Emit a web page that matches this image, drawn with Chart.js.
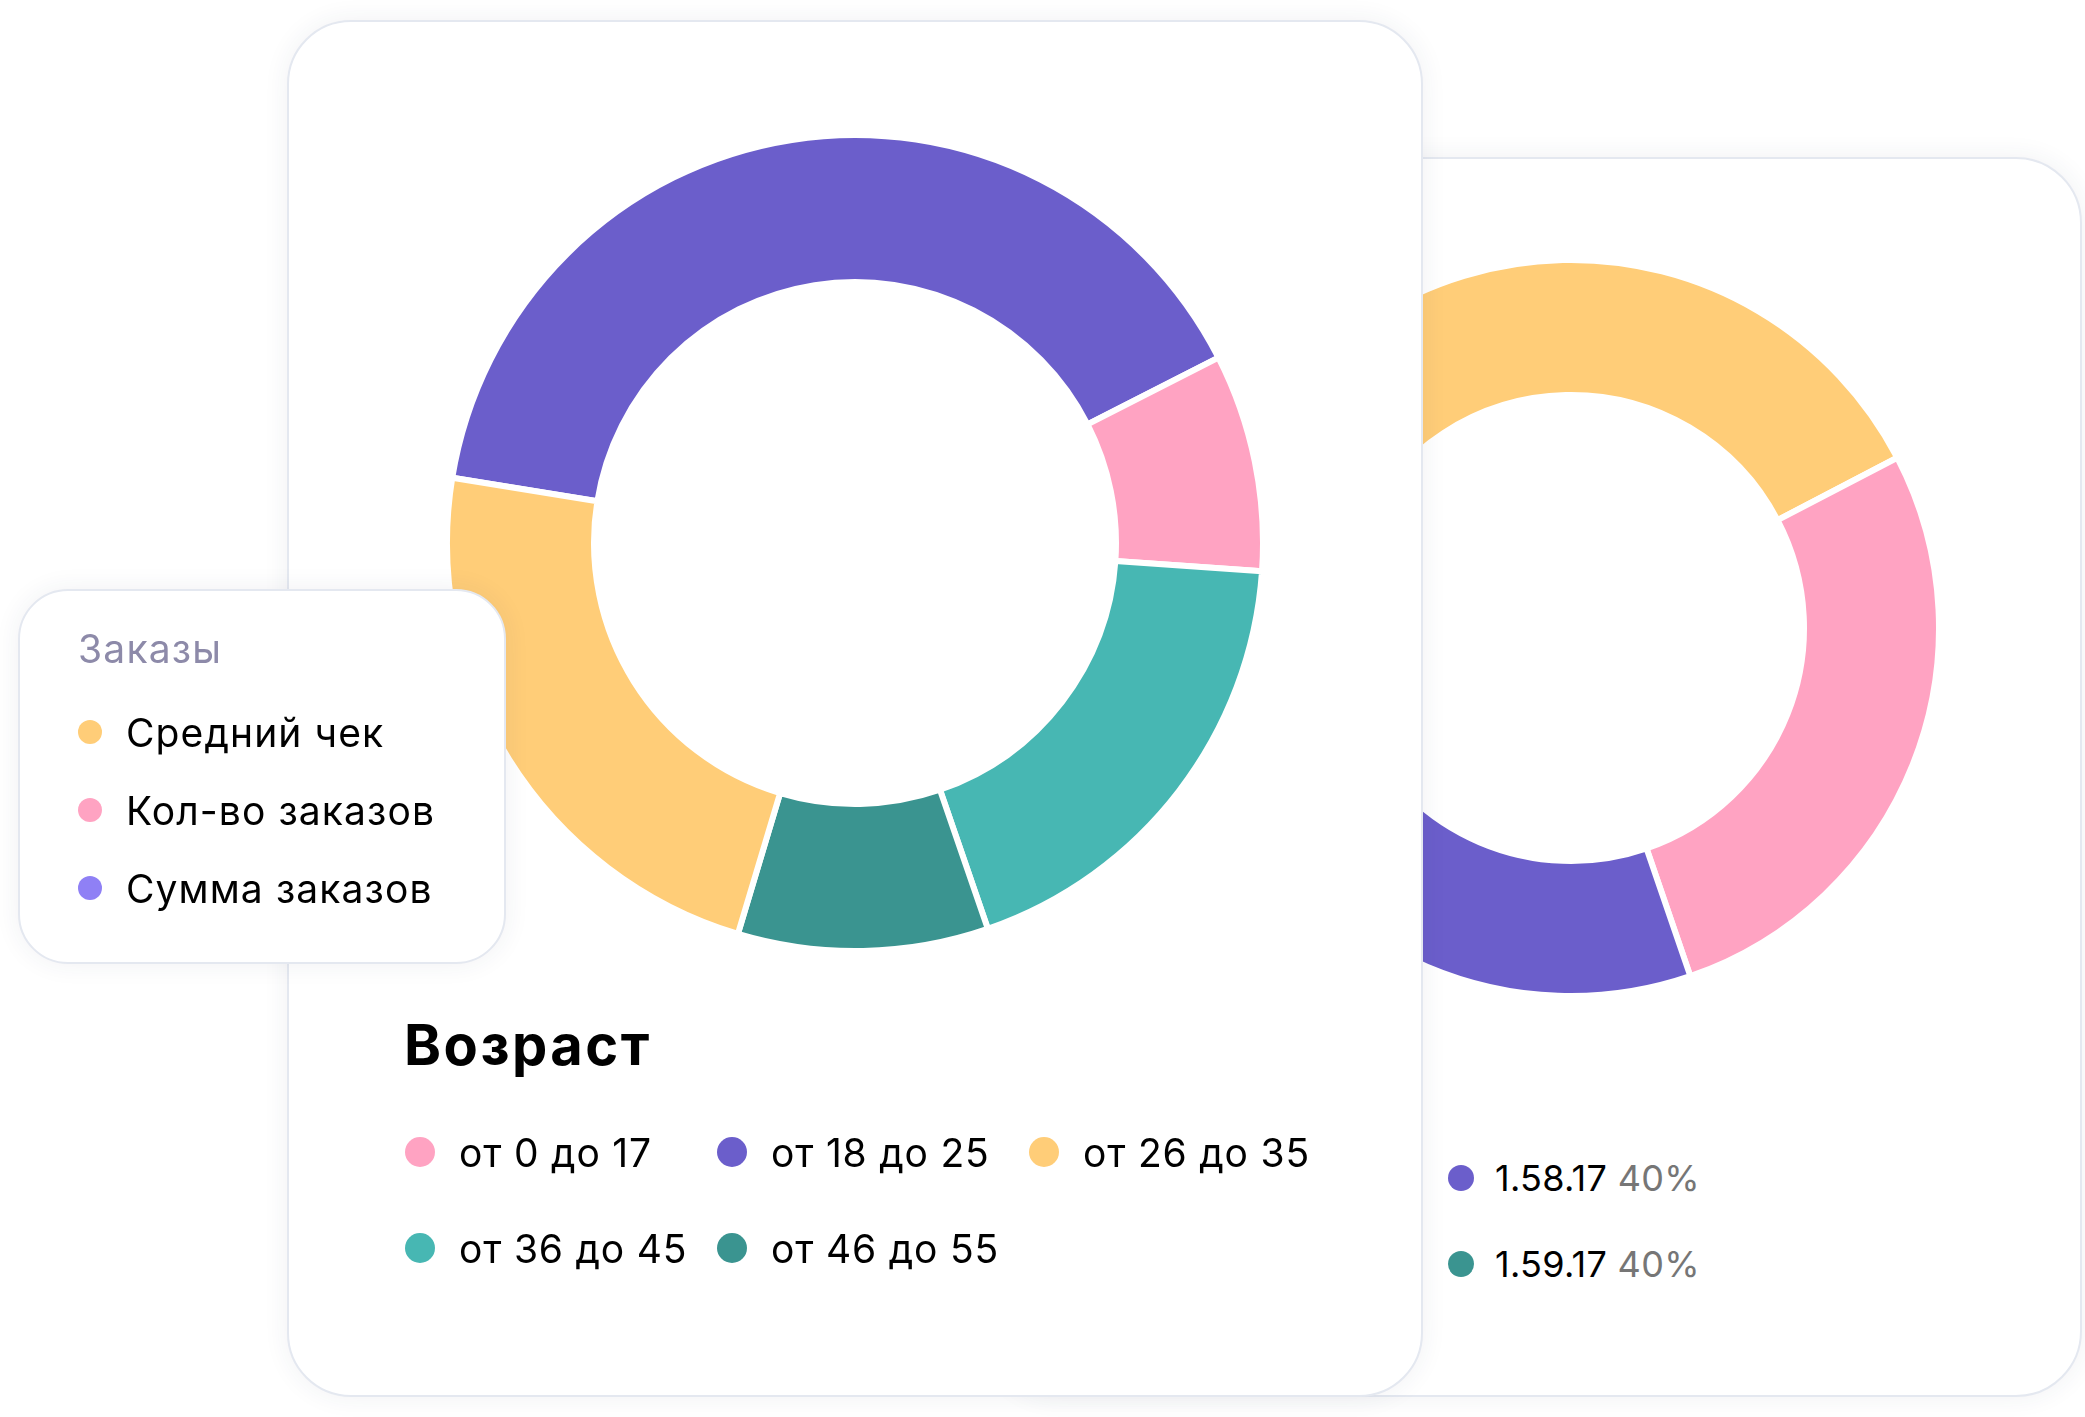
<!DOCTYPE html>
<html>
<head>
<meta charset="utf-8">
<script src="https://cdn.jsdelivr.net/npm/chart.js@4.4.1/dist/chart.umd.min.js"></script>
<style>
  html, body { margin: 0; padding: 0; background: #ffffff; }
  body { width: 2085px; height: 1417px; position: relative; overflow: hidden; font-family: Inter, "Noto Sans", sans-serif; color: #000; }
  .card { position: absolute; background: #fff; border: 2px solid #E4E8F0; box-sizing: border-box; box-shadow: 0 0 26px rgba(40, 50, 90, 0.07); }
  .dot { position: absolute; border-radius: 50%; }
  .txt { position: absolute; white-space: nowrap; }
  canvas { position: absolute; }
</style>
</head>
<body>
<div id="backCard" class="card" style="left:990px; top:157px; width:1092px; height:1240px; border-radius:66px; z-index:1;"></div>
<canvas id="backChart" width="742" height="742" style="left:1200px; top:257px; z-index:2;"></canvas>
<div id="backLegend" style="position:absolute; left:0; top:0; z-index:2;"></div>

<div id="mainCard" class="card" style="left:287px; top:20px; width:1136px; height:1377px; border-radius:64px; z-index:3;"></div>
<canvas id="mainChart" width="822" height="822" style="left:444px; top:132px; z-index:4;"></canvas>
<div class="txt" style="left:404px; top:1010px; font-size:56px; line-height:70px; font-weight:700; letter-spacing:2.5px; z-index:4;">Возраст</div>
<div id="mainLegend" style="position:absolute; left:0; top:0; z-index:4;"></div>

<div id="ordersCard" class="card" style="left:18px; top:589px; width:488px; height:375px; border-radius:50px; z-index:5;"></div>
<div id="ordersLegend" style="position:absolute; left:0; top:0; z-index:6;"></div>

<script>
// ---- Data ----
const ageLabels = ["от 0 до 17", "от 18 до 25", "от 26 до 35", "от 36 до 45", "от 46 до 55"];
const ageValues = [8.6, 39.9, 22.9, 18.6, 9.9];
const ageColors = ["#FFA3C2", "#6B5ECB", "#FFCD78", "#47B7B3", "#3A9490"];
const ageDrawOrder = [1, 0, 3, 4, 2];

const backLabels = ["1.56.17", "1.57.17", "1.58.17", "1.59.17"];
const backValues = [35.4, 27.4, 23.3, 13.9];
const backColors = ["#FFCD78", "#FFA3C2", "#6B5ECB", "#3A9490"];
const backLegendLabels = ["1.58.17", "1.59.17"];
const backLegendPct = ["40%", "40%"];
const backLegendColors = ["#6B5ECB", "#3A9490"];

const ordersTitle = "Заказы";
const ordersLabels = ["Средний чек", "Кол-во заказов", "Сумма заказов"];
const ordersColors = ["#FFCD78", "#FFA3C2", "#8F80F5"];

// ---- Charts ----
const commonOpts = {
  responsive: false,
  animation: false,
  events: [],
  layout: { padding: 0 },
  plugins: { legend: { display: false }, tooltip: { enabled: false } }
};

new Chart(document.getElementById('mainChart'), {
  type: 'doughnut',
  data: {
    labels: ageDrawOrder.map(i => ageLabels[i]),
    datasets: [{
      data: ageDrawOrder.map(i => ageValues[i]),
      backgroundColor: ageDrawOrder.map(i => ageColors[i]),
      borderColor: '#ffffff',
      borderWidth: 6,
      hoverOffset: 0
    }]
  },
  options: Object.assign({}, commonOpts, { cutout: 261, rotation: -80.8 })
});

new Chart(document.getElementById('backChart'), {
  type: 'doughnut',
  data: {
    labels: backLabels,
    datasets: [{
      data: backValues,
      backgroundColor: backColors,
      borderColor: '#ffffff',
      borderWidth: 6,
      hoverOffset: 0
    }]
  },
  options: Object.assign({}, commonOpts, { cutout: 233, rotation: -65 })
});

// ---- Legends (HTML) ----
function addItem(container, cx, cy, r, color, html, textLeft, fontSize, extraStyle) {
  const d = document.createElement('div');
  d.className = 'dot';
  d.style.cssText = `left:${cx - r}px; top:${cy - r}px; width:${2*r}px; height:${2*r}px; background:${color};`;
  container.appendChild(d);
  const t = document.createElement('div');
  t.className = 'txt';
  const lh = Math.round(fontSize * 1.4);
  t.style.cssText = `left:${textLeft}px; top:${cy - lh/2}px; font-size:${fontSize}px; line-height:${lh}px; ${extraStyle || ''}`;
  t.innerHTML = html;
  container.appendChild(t);
}

const mainLegend = document.getElementById('mainLegend');
const mainCols = [420, 732, 1044];
const mainRows = [1152, 1248];
ageLabels.forEach((lab, i) => {
  const col = i % 3, row = Math.floor(i / 3);
  addItem(mainLegend, mainCols[col], mainRows[row], 15, ageColors[i], lab, mainCols[col] + 39, 39, 'letter-spacing:0.8px;');
});

const backLegend = document.getElementById('backLegend');
const backRows = [1178, 1264];
backLegendLabels.forEach((lab, i) => {
  addItem(backLegend, 1461, backRows[i], 13, backLegendColors[i],
    `${lab} <span style="color:#767676">${backLegendPct[i]}</span>`, 1495, 36, 'letter-spacing:0.3px;');
});

const ordersLegend = document.getElementById('ordersLegend');
const tt = document.createElement('div');
tt.className = 'txt';
tt.style.cssText = 'left:78px; top:624px; font-size:39px; line-height:50px; letter-spacing:1.2px; color:#8D8AA9;';
tt.textContent = ordersTitle;
ordersLegend.appendChild(tt);
const ordersRows = [732, 810, 888];
ordersLabels.forEach((lab, i) => {
  addItem(ordersLegend, 90, ordersRows[i], 12, ordersColors[i], lab, 126, 39, 'letter-spacing:1.1px;');
});
</script>
</body>
</html>
